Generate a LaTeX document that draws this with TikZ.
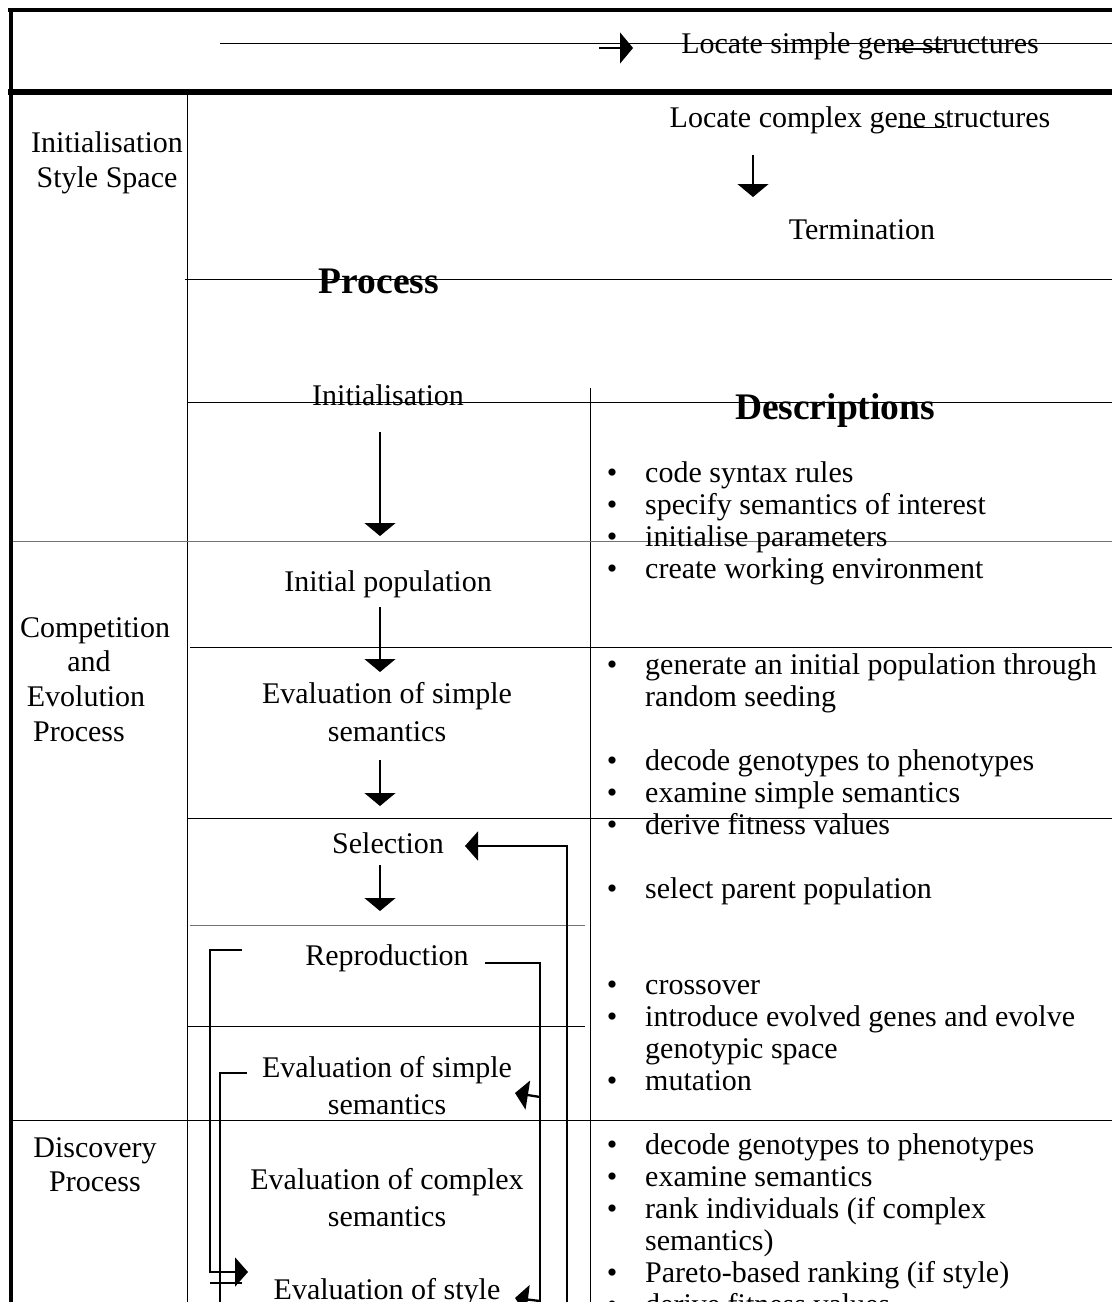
\documentclass[tikz,border=0pt]{standalone}
\usepackage{fontspec}
\setmainfont{Liberation Serif}
\usetikzlibrary{arrows.meta}

\begin{document}
\begin{tikzpicture}[x=1pt,y=-1pt,
  txt/.style={anchor=base, inner sep=0pt, font=\fontsize{30}{32}\selectfont},
  txtl/.style={txt, anchor=base west},
  hdr/.style={anchor=base, inner sep=0pt, font=\fontsize{37.5}{40}\selectfont\bfseries},
  rule/.style={line width=1pt},
  softrule/.style={line width=1pt, black!55},
  frame/.style={line width=4.5pt},
  flow/.style={line width=1.3pt, -{Triangle[length=13pt,width=31pt]}},
  loopline/.style={line width=2.3pt},
  loopto/.style={loopline, -{Triangle[length=13pt,width=29pt]}}
]
\useasboundingbox (0,0) rectangle (1112,1302);
\clip (0,0) rectangle (1112,1302);

% ---------- outer frame and header band ----------
\draw[frame] (8,10) -- (1112,10);
\draw[frame] (11,8) -- (11,1302);
\draw[line width=6pt] (8,92) -- (1112,92);

% ---------- table rules ----------
\draw[rule] (187,95) -- (187,1302);
\draw[rule] (590,388) -- (590,1302);
\draw[rule] (185,279) -- (1112,279);
\draw[rule] (187,402) -- (1112,402);
\draw[softrule] (13,541) -- (1112,541);
\draw[rule] (190,647) -- (1112,647);
\draw[rule] (187,818) -- (1112,818);
\draw[softrule] (190,925) -- (585,925);
\draw[rule] (187,1026) -- (585,1026);
\draw[rule] (13,1120) -- (1112,1120);

% ---------- top band ----------
\node[txt] (simple) at (860,53) {Locate simple gene structures};
\draw[rule] (220,43) -- (1112,43);
\draw[line width=2pt] (895,49) -- (943,49);
\coordinate (tstart) at (599,48);
\coordinate (tend) at (633,48);
\draw[flow] (tstart) -- (tend);

\node[txt] (complex) at (860,127) {Locate complex gene structures};
\draw[rule] (898,127) -- (947,127);
\node[txt] (term) at (862,239) {Termination};
\coordinate (c1) at (753,155);
\coordinate (c2) at (753,197);
\draw[flow] (c1) -- (c2);

% ---------- left column: stages ----------
\node[txt] (s1a) at (107,152) {Initialisation};
\node[txt] (s1b) at (107,187) {Style Space};
\node[txt] (s2a) at (95,637) {Competition};
\node[txt] (s2b) at (89,671) {and};
\node[txt] (s2c) at (86,706) {Evolution};
\node[txt] (s2d) at (79,741) {Process};
\node[txt] (s3a) at (95,1157) {Discovery};
\node[txt] (s3b) at (95,1191) {Process};

% ---------- headings ----------
\node[hdr] (hproc) at (379,293) {Process};
\node[hdr] (hdesc) at (835,419) {Descriptions};

% ---------- process column ----------
\node[txt] (p0) at (388,405) {Initialisation};
\node[txt] (p1) at (388,591) {Initial population};
\node[txt] (p2a) at (387,703) {Evaluation of simple};
\node[txt] (p2b) at (387,741) {semantics};
\node[txt] (p3) at (388,853) {Selection};
\node[txt] (p4) at (387,965) {Reproduction};
\node[txt] (p5a) at (387,1077) {Evaluation of simple};
\node[txt] (p5b) at (387,1114) {semantics};
\node[txt] (p6a) at (387,1189) {Evaluation of complex};
\node[txt] (p6b) at (387,1226) {semantics};
\node[txt] (p7) at (387,1299) {Evaluation of style};

% downward flow arrows
\coordinate (a0) at (380,432);  \coordinate (a0e) at (380,536);
\coordinate (a1) at (380,607);  \coordinate (a1e) at (380,672);
\coordinate (a2) at (380,760);  \coordinate (a2e) at (380,806);
\coordinate (a3) at (380,865);  \coordinate (a3e) at (380,911);
\draw[flow] (a0) -- (a0e);
\draw[flow] (a1) -- (a1e);
\draw[flow] (a2) -- (a2e);
\draw[flow] (a3) -- (a3e);

% ---------- feedback loops ----------
\coordinate (selin) at (465,846);
\draw[loopto] (567,1310) -- (567,846) -- (selin);

\coordinate (rep) at (485,963);
\draw[loopline] (rep) -- (540,963) -- (540,1310);
\coordinate (ev1in) at (515,1093);
\draw[loopto] (540,1097) -- (ev1in);
\coordinate (ev3in) at (515,1298);
\draw[loopto] (540,1301) -- (ev3in);

\coordinate (repl) at (242,950);
\coordinate (stylein) at (248,1272);
\draw[loopto] (repl) -- (210,950) -- (210,1272) -- (stylein);
\coordinate (ev1l) at (247,1073);
\draw[loopline] (ev1l) -- (220,1073) -- (220,1310);
\draw[loopline] (210,1283) -- (242,1283);

% ---------- description column ----------
\foreach \yy/\tt [count=\i] in {
  482/code syntax rules,
  514/specify semantics of interest,
  546/initialise parameters,
  578/create working environment,
  674/generate an initial population through,
  770/decode genotypes to phenotypes,
  802/examine simple semantics,
  834/derive fitness values,
  898/select parent population,
  994/crossover,
  1026/introduce evolved genes and evolve,
  1090/mutation,
  1154/decode genotypes to phenotypes,
  1186/examine semantics,
  1218/rank individuals (if complex,
  1282/Pareto-based ranking (if style),
  1314/derive fitness values}
{
  \node[txt] (b\i) at (612,\yy) {\textbullet};
  \node[txtl] (d\i) at (645,\yy) {\tt};
}
\node[txtl] (d2a) at (645,706) {random seeding};
\node[txtl] (d11a) at (645,1058) {genotypic space};
\node[txtl] (d15a) at (645,1250) {semantics)};
\end{tikzpicture}
\end{document}
